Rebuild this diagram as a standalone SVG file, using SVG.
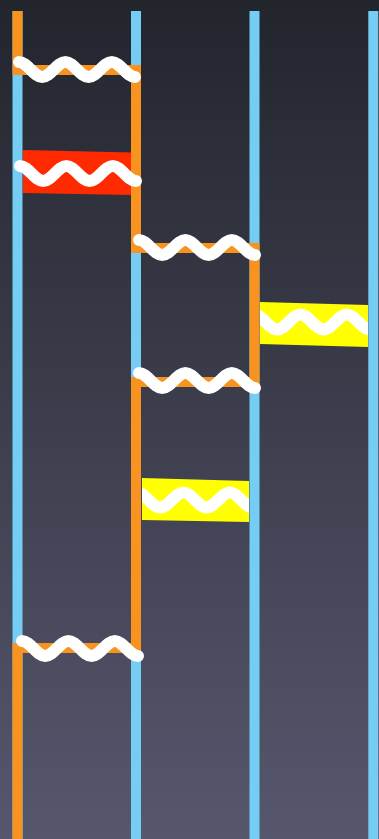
<svg xmlns="http://www.w3.org/2000/svg" xmlns:xlink="http://www.w3.org/1999/xlink" width="379" height="839" viewBox="0 0 379 839">
  <style>
    .wire { stroke: #76cdf3; stroke-width: 10; fill: none; }
    .path { stroke: #f7931e; stroke-width: 10; fill: none; stroke-linejoin: miter; }
    .wv { stroke: #ffffff; stroke-width: 12; fill: none; stroke-linecap: round; stroke-linejoin: round; }
    .wvc { stroke: #ffffff; stroke-width: 12; fill: none; }
  </style>
  <defs>
    <linearGradient id="bg" x1="0" y1="0" x2="0" y2="1">
      <stop offset="0" stop-color="#23252d"/>
      <stop offset="1" stop-color="#56576d"/>
    </linearGradient>
    <path id="wave" d="M0,-7.5 C8.35,-7.5 14.85,7.5 23.2,7.5 S38.05,-7.5 46.4,-7.5 S61.25,7.5 69.6,7.5 S84.45,-7.5 92.8,-7.5 S107.65,7.5 116,7.5"/>
    <clipPath id="clipY1"><polygon points="260,302 368,305 368,347 260,344"/></clipPath>
    <clipPath id="clipY2"><polygon points="142,478 249,481 249,522 142,520"/></clipPath>
  </defs>
  <rect width="379" height="839" fill="url(#bg)"/>

  <g id="boxes">
    <polygon id="red-box" points="23,150 133,152.5 133,195 23,193" fill="#ff2a00"/>
    <polygon id="yellow-box-1" points="260,302 368,305 368,347 260,344" fill="#ffff00"/>
    <polygon id="yellow-box-2" points="142,478 249,481 249,522 142,520" fill="#ffff00"/>
  </g>

  <g id="connectors">
    <line class="wire" x1="17.5" y1="11" x2="17.5" y2="839"/>
    <line class="wire" x1="136" y1="11" x2="136" y2="839"/>
    <line class="wire" x1="254.5" y1="11" x2="254.5" y2="839"/>
    <line class="wire" x1="373.3" y1="11" x2="373.3" y2="839"/>
    <path class="path" d="M17.5,11 V70 H136 V248 H254.5 V382 H136 V648 H17.5 V839"/>
  </g>

  <g id="waves">
    <use href="#wave" class="wv" x="19" y="69.5"/>
    <use href="#wave" class="wv" x="20" y="173.5"/>
    <use href="#wave" class="wv" x="139" y="247.5"/>
    <g clip-path="url(#clipY1)"><use href="#wave" class="wvc" x="254" y="322"/></g>
    <use href="#wave" class="wv" x="139" y="380.5"/>
    <g clip-path="url(#clipY2)"><use href="#wave" class="wvc" x="137" y="500"/></g>
    <use href="#wave" class="wv" x="22" y="648.5"/>
  </g>
</svg>
